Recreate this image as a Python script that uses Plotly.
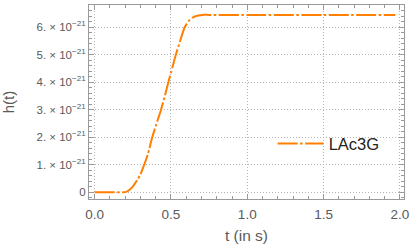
import plotly.graph_objects as go

t_vals = [0.0, 0.05, 0.1, 0.15, 0.2, 0.22, 0.25, 0.28, 0.30, 0.325, 0.35, 0.375, 0.40, 0.435,
          0.46, 0.483, 0.51, 0.532, 0.56, 0.59, 0.62, 0.65, 0.68, 0.705, 0.75, 1.0, 1.5, 1.97]
h_vals = [0.0, 0.0, 0.0, 0.0, 0.0, 0.05, 0.2, 0.45, 0.65, 1.0, 1.4, 1.95, 2.4, 3.0,
          3.5, 4.0, 4.55, 5.0, 5.5, 6.0, 6.25, 6.38, 6.43, 6.45, 6.45, 6.45, 6.45, 6.45]
h_vals = [v * 1e-21 for v in h_vals]

x_ticks = [0.0, 0.5, 1.0, 1.5, 2.0]
x_labels = ["0.0", "0.5", "1.0", "1.5", "2.0"]
y_ticks = [0, 1e-21, 2e-21, 3e-21, 4e-21, 5e-21, 6e-21]
y_labels = ["0"] + [f"{k}. × 10<sup>−21</sup>" for k in range(1, 7)]

series_name = "LAc3G"
orange = "#FF8000"
gray = "#9a9a9a"
label_color = "#5a5a5a"
font_family = "Liberation Sans, Arial"

fig = go.Figure()
fig.add_trace(go.Scatter(x=t_vals, y=h_vals, mode="lines", name=series_name,
                         line=dict(color=orange, width=2, dash="20px,2.5px,2.5px,2.5px",
                                   shape="spline", smoothing=0.6)))

axis_common = dict(showline=True, linecolor=gray, linewidth=1, mirror="allticks",
                   ticks="inside", ticklen=5, tickcolor=gray, showgrid=True,
                   gridcolor="#b5b5b5", griddash="1px,2px", gridwidth=1, zeroline=False,
                   ticklabeloverflow="allow")

fig.update_xaxes(range=[-0.037, 2.027], tickvals=x_ticks, ticktext=x_labels,
                 tickfont=dict(family=font_family, size=13.5, color=label_color),
                 ticklabelstandoff=3,
                 minor=dict(ticks="inside", ticklen=3, tickcolor=gray, dtick=0.1, showgrid=False),
                 title=dict(text="t (in s)", font=dict(family=font_family, size=15.5, color=label_color), standoff=8),
                 **axis_common)
fig.update_yaxes(range=[-0.25e-21, 6.81e-21], tickvals=y_ticks, ticktext=y_labels,
                 tickfont=dict(family=font_family, size=11.5, color=label_color),
                 minor=dict(ticks="inside", ticklen=3, tickcolor=gray, dtick=0.2e-21, showgrid=False),
                 title=dict(text="h(t)", font=dict(family=font_family, size=15, color=label_color), standoff=22),
                 **axis_common)

fig.update_layout(width=413, height=249, margin=dict(l=87, r=7, t=4, b=50),
                  plot_bgcolor="white", paper_bgcolor="white",
                  showlegend=True,
                  legend=dict(x=0.583, y=0.285, xanchor="left", yanchor="middle",
                              itemwidth=46, bgcolor="rgba(0,0,0,0)",
                              font=dict(family=font_family, size=16.5, color="#222222")))

fig.write_html("out.html", config={"displayModeBar": False},
               post_script="document.body.style.margin='0px';")
